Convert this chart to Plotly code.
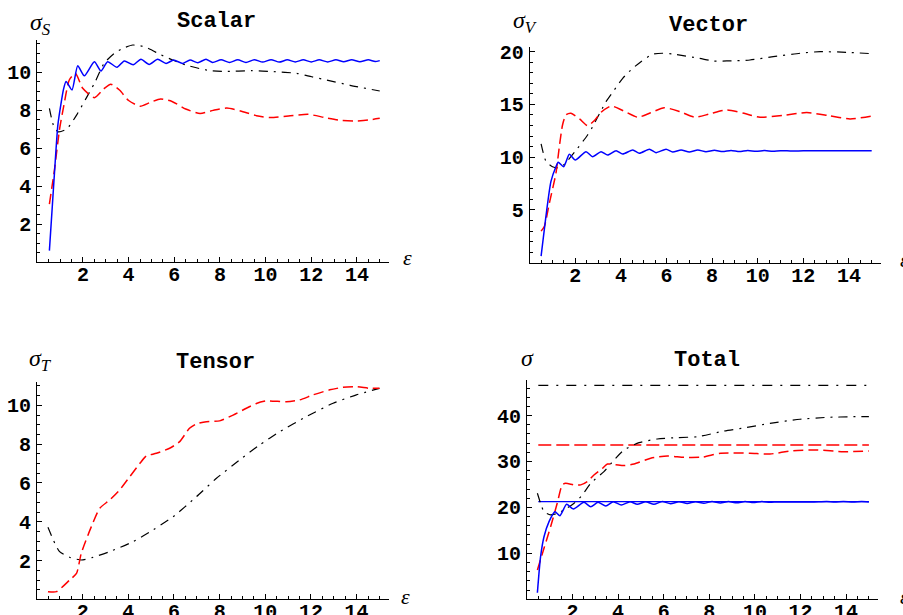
import plotly.graph_objects as go

W, H = 903, 615

# ---------------- Scalar ----------------
sc_blue_x = [0.53,0.65,0.78,0.9,1.04,1.15,1.26,1.52,1.77,2.06,2.5,2.79,3.08,3.49,3.81,4.2,4.54,4.9,5.27,5.64,5.97,6.37,6.69,7.03,7.39,7.68,8.05,8.42,8.78,9.14,9.5,9.87,10.24,10.6,10.95,11.3,11.65,12.0,12.35,12.72,13.08,13.42,13.77,14.13,14.5,14.8,15.0]
sc_blue_y = [0.6,2.8,5.2,7.2,8.35,9.1,9.5,9.05,10.33,9.8,10.54,10.05,10.54,10.25,10.58,10.38,10.67,10.4,10.67,10.45,10.63,10.45,10.63,10.49,10.67,10.5,10.65,10.5,10.65,10.5,10.65,10.52,10.65,10.52,10.64,10.53,10.64,10.53,10.64,10.53,10.64,10.54,10.64,10.54,10.64,10.55,10.6]
sc_red_x = [0.53,0.75,0.97,1.18,1.4,1.67,1.99,2.5,2.9,3.22,3.6,4.0,4.5,4.95,5.4,5.9,6.5,7.13,7.7,8.3,8.9,9.6,10.2,11.0,11.87,12.6,13.3,13.9,14.5,15.0]
sc_red_y = [3.05,4.84,6.95,8.35,9.58,9.93,9.14,8.65,9.1,9.36,9.05,8.5,8.2,8.4,8.58,8.45,8.05,7.82,7.98,8.1,7.95,7.7,7.6,7.68,7.77,7.6,7.45,7.42,7.47,7.56]
sc_blk_x = [0.53,0.72,0.92,1.29,1.77,2.13,2.5,2.93,3.37,3.67,4.18,4.69,5.42,5.93,6.51,7.1,7.6,8.22,9.39,10.35,11.36,12.02,12.67,13.7,15.0]
sc_blk_y = [8.09,7.15,6.85,7.0,7.83,8.6,9.4,10.46,10.98,11.2,11.42,11.33,10.9,10.63,10.37,10.18,10.07,10.03,10.07,10.02,9.93,9.75,9.58,9.3,9.0]

# ---------------- Vector ----------------
ve_blue_x = [0.5,0.71,0.93,1.15,1.25,1.49,1.74,2.0,2.47,2.76,3.13,3.42,3.79,4.08,4.52,4.81,5.25,5.54,5.98,6.27,6.64,7.0,7.37,7.73,8.1,8.46,8.83,9.2,9.56,9.93,10.3,10.66,11.0,11.5,12.0,13.0,14.0,15.0]
ve_blue_y = [0.64,4.37,7.68,9.1,9.52,9.1,10.27,9.73,10.52,10.05,10.52,10.2,10.62,10.3,10.68,10.37,10.75,10.43,10.75,10.49,10.68,10.49,10.68,10.52,10.65,10.53,10.64,10.54,10.64,10.55,10.63,10.56,10.62,10.58,10.6,10.6,10.62,10.62]
ve_red_x = [0.5,0.64,0.86,1.15,1.3,1.44,1.59,1.81,2.2,2.54,2.85,3.13,3.57,4.1,4.74,5.3,5.9,6.6,7.25,7.9,8.64,9.4,10.1,11.1,12.15,13.1,14.05,15.0]
ve_red_y = [3.0,3.42,5.63,8.47,11.0,13.05,14.0,14.16,13.6,12.98,13.5,14.25,14.85,14.4,13.78,14.2,14.69,14.3,13.78,14.1,14.47,14.15,13.78,13.95,14.22,13.95,13.62,13.9]
ve_blk_x = [0.5,0.72,1.0,1.3,1.56,2.1,2.54,2.76,3.35,3.71,4.08,4.52,4.88,5.39,5.83,6.27,7.44,8.05,8.64,9.66,10.68,11.86,12.74,13.9,15.0]
ve_blk_y = [11.25,9.58,9.1,9.0,9.42,10.84,12.1,12.89,15.26,16.36,17.47,18.42,19.04,19.74,19.84,19.77,19.36,19.11,19.11,19.2,19.52,19.84,19.99,19.93,19.8]

# ---------------- Tensor ----------------
te_red_x = [0.48,0.85,1.43,1.73,1.94,2.38,2.75,3.18,3.62,4.06,4.5,4.79,5.23,5.81,6.25,6.68,6.98,7.42,8.0,8.59,9.17,9.61,10.05,10.92,11.5,12.09,12.82,13.4,13.99,14.57,15.0]
te_red_y = [0.4,0.4,1.0,1.34,2.38,3.75,4.7,5.12,5.64,6.32,7.0,7.39,7.53,7.79,8.13,8.82,9.04,9.16,9.2,9.5,9.85,10.1,10.23,10.19,10.28,10.54,10.8,10.93,10.96,10.88,10.88]
te_blk_x = [0.48,0.78,0.99,1.43,1.94,2.45,3.18,4.2,5.08,5.96,6.98,7.86,8.88,9.75,10.63,11.8,12.97,13.99,15.0]
te_blk_y = [3.72,2.89,2.46,2.17,2.03,2.17,2.46,2.97,3.58,4.26,5.29,6.24,7.19,7.96,8.64,9.42,10.11,10.54,10.88]

# ---------------- Total ----------------
to_blue_x = [0.46,0.6,0.75,0.97,1.23,1.45,1.74,2.04,2.5,2.8,3.12,3.46,3.79,4.14,4.52,4.84,5.21,5.57,5.94,6.3,6.67,7.03,7.4,7.76,8.12,8.48,8.84,9.2,9.57,9.93,10.3,10.66,11.0,11.5,12.0,12.5,13.15,13.5,13.88,14.3,14.68,15.0]
to_blue_y = [1.4,9.26,13.6,16.9,19.06,18.2,20.67,19.65,21.1,20.15,21.1,20.3,21.24,20.52,21.24,20.67,21.24,20.67,21.3,20.8,21.25,20.85,21.25,20.9,21.28,20.95,21.28,21.0,21.28,21.05,21.28,21.1,21.2,21.15,21.2,21.15,21.27,21.15,21.27,21.15,21.27,21.2]
to_red_x = [0.46,0.75,1.04,1.33,1.55,1.7,2.07,2.36,2.65,2.94,3.31,3.53,3.9,4.26,4.7,5.43,6.16,6.89,7.7,8.5,9.78,10.66,11.68,12.71,13.88,15.0]
to_red_y = [6.36,11.1,15.8,20.9,24.9,25.25,24.9,24.9,25.6,27.06,28.5,29.45,29.3,29.1,29.45,30.7,31.2,30.9,30.95,31.8,31.8,31.63,32.36,32.5,32.14,32.28]
to_blk_x = [0.46,0.6,0.75,1.04,1.33,1.63,2.07,2.43,2.8,3.38,3.82,4.26,4.92,5.72,6.6,7.5,8.61,9.64,10.66,11.98,13.15,14.32,15.0]
to_blk_y = [23.07,20.9,19.06,18.35,18.7,19.43,20.9,22.7,25.25,27.8,30.3,32.5,34.1,34.9,35.2,35.4,36.6,37.4,38.3,39.2,39.6,39.75,39.75]
to_hline_x = [0.5, 15.0]
to_hline_blk = 46.6
to_hline_red = 33.6
to_hline_blue = 21.24

titles = ["Scalar", "Vector", "Tensor", "Total"]
ylabels = ["σ<sub>S</sub>", "σ<sub>V</sub>", "σ<sub>T</sub>", "σ"]
xticks = [2, 4, 6, 8, 10, 12, 14]
yticks = [[2, 4, 6, 8, 10], [5, 10, 15, 20], [2, 4, 6, 8, 10], [10, 20, 30, 40]]
yminor = [0.5, 1, 0.5, 2]
ytop = [11.7, 20.46, 11.22, 47.75]

# panel geometry in pixels: (x of y-axis, y of x-axis, px per x unit, px at top)
geo = [(37.3, 262.0, 22.83, 39.7), (529.7, 262.8, 22.8, 46.7),
       (37.0, 599.4, 22.83, 381.7), (526.9, 599.2, 22.8, 380.0)]
XMAX = 15.4

BLUE = "rgb(0,0,255)"
RED = "rgb(255,0,0)"
BLK = "black"
RED_DASH = "10px,5px"
BLK_DASH = "9px,6px,2px,6px"

fig = go.Figure()

def add(i, x, y, color, dash, width):
    sfx = "" if i == 0 else str(i + 1)
    fig.add_trace(go.Scatter(x=x, y=y, mode="lines", xaxis="x" + sfx, yaxis="y" + sfx,
                             line=dict(color=color, dash=dash, width=width, shape="spline", smoothing=0.6),
                             showlegend=False, hoverinfo="skip"))

add(0, sc_blk_x, sc_blk_y, BLK, BLK_DASH, 1.2)
add(0, sc_red_x, sc_red_y, RED, RED_DASH, 1.5)
add(0, sc_blue_x, sc_blue_y, BLUE, "solid", 1.5)
add(1, ve_blk_x, ve_blk_y, BLK, BLK_DASH, 1.2)
add(1, ve_red_x, ve_red_y, RED, RED_DASH, 1.5)
add(1, ve_blue_x, ve_blue_y, BLUE, "solid", 1.5)
add(2, te_blk_x, te_blk_y, BLK, BLK_DASH, 1.2)
add(2, te_red_x, te_red_y, RED, RED_DASH, 1.5)
add(3, to_hline_x, [to_hline_blk] * 2, BLK, "10px,8px,2px,8px", 1.2)
add(3, to_hline_x, [to_hline_red] * 2, RED, "13px,5px", 1.5)
add(3, to_hline_x, [to_hline_blue] * 2, BLUE, "solid", 1.3)
add(3, to_blk_x, to_blk_y, BLK, BLK_DASH, 1.2)
add(3, to_red_x, to_red_y, RED, RED_DASH, 1.5)
add(3, to_blue_x, to_blue_y, BLUE, "solid", 1.5)

tickfont = dict(family="Liberation Mono", size=20, color="black", weight="bold")
layout = dict(width=W, height=H, margin=dict(l=0, r=0, t=0, b=0, autoexpand=False),
              paper_bgcolor="white", plot_bgcolor="white", showlegend=False)
annotations = []
for i in range(4):
    x0, y0, sx, ytp = geo[i]
    xr = x0 + XMAX * sx
    sfx = "" if i == 0 else str(i + 1)
    layout["xaxis" + sfx] = dict(
        domain=[x0 / W, xr / W], range=[0, XMAX], anchor="y" + sfx,
        showline=True, linecolor="black", linewidth=1, showgrid=False, zeroline=False,
        tickmode="array", tickvals=xticks, ticks="inside", ticklen=5, tickcolor="black",
        tickfont=tickfont, ticklabelstandoff=-6, automargin=False,
        minor=dict(tickmode="linear", tick0=0, dtick=0.5, ticks="inside", ticklen=3, tickcolor="black"))
    layout["yaxis" + sfx] = dict(
        domain=[1 - y0 / H, 1 - ytp / H], range=[0, ytop[i]], anchor="x" + sfx,
        showline=True, linecolor="black", linewidth=1, showgrid=False, zeroline=False,
        tickmode="array", tickvals=yticks[i], ticks="inside", ticklen=5, tickcolor="black",
        tickfont=tickfont, ticklabelstandoff=1, automargin=False,
        minor=dict(tickmode="linear", tick0=0, dtick=yminor[i], ticks="inside", ticklen=3, tickcolor="black"))

title_pos = [(216, 21), (708, 26), (215, 362), (707, 360)]
ylab_pos = [(40, 24), (525, 22), (40, 360), (527, 358)]
eps_pos = [(407, 257), (904, 259), (405, 596), (904, 596)]
for i in range(4):
    tx, ty = title_pos[i]
    annotations.append(dict(text="<b>" + titles[i] + "</b>", x=tx / W, y=1 - ty / H, xref="paper", yref="paper",
                            xanchor="center", yanchor="middle", showarrow=False,
                            font=dict(family="Liberation Mono", size=22, color="black")))
    lx, ly = ylab_pos[i]
    annotations.append(dict(text="<i>" + ylabels[i] + "</i>", x=lx / W, y=1 - ly / H, xref="paper", yref="paper",
                            xanchor="center", yanchor="middle", showarrow=False,
                            font=dict(family="Liberation Serif", size=24, color="black")))
    ex, ey = eps_pos[i]
    annotations.append(dict(text="<i>ε</i>", x=ex / W, y=1 - ey / H, xref="paper", yref="paper",
                            xanchor="center", yanchor="middle", showarrow=False,
                            font=dict(family="Liberation Serif", size=22, color="black")))
layout["annotations"] = annotations
fig.update_layout(**layout)
fig.write_html("out.html", config={"displayModeBar": False, "staticPlot": True},
               post_script="document.body.style.margin='0';document.body.style.padding='0';"
                           "document.body.style.overflow='hidden';")
